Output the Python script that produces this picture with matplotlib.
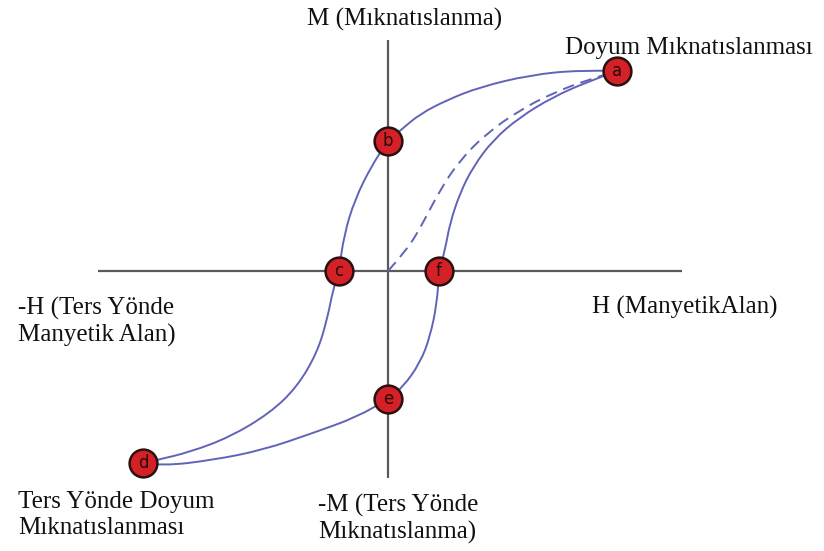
import matplotlib
matplotlib.use("Agg")
import matplotlib.pyplot as plt
from matplotlib.path import Path
from matplotlib.patches import PathPatch

# ---- data (H, M in arbitrary units) ----
# descending branch a -> b -> c -> d
desc_H = [2.29, 1.92, 1.42, 0.92, 0.59, 0.32, 0.14, 0.00, -0.16, -0.33, -0.44, -0.49,
          -0.55, -0.61, -0.71, -0.91, -1.18, -1.58, -1.98, -2.31, -2.45]
desc_M = [2.00, 2.01, 1.96, 1.84, 1.71, 1.57, 1.42, 1.30, 1.06, 0.72, 0.36, 0.00,
          -0.19, -0.49, -0.82, -1.16, -1.42, -1.66, -1.81, -1.89, -1.92]
# ascending branch d -> e -> f -> a
asc_H = [-2.45, -2.25, -1.75, -1.25, -0.75, -0.31, 0.00, 0.15, 0.32, 0.42, 0.49, 0.51,
         0.57, 0.62, 0.72, 0.85, 1.05, 1.32, 1.65, 1.99, 2.29]
asc_M = [-1.92, -1.95, -1.89, -1.79, -1.62, -1.46, -1.28, -1.16, -0.92, -0.66, -0.32, 0.00,
         0.21, 0.48, 0.78, 1.04, 1.31, 1.54, 1.74, 1.89, 2.00]
# initial magnetisation curve (dashed)
init_H = [0.00, 0.19, 0.35, 0.52, 0.72, 0.99, 1.32, 1.65, 1.99, 2.29]
init_M = [0.00, 0.21, 0.48, 0.81, 1.11, 1.38, 1.61, 1.78, 1.91, 2.00]
# labelled points
pt_labels = ["a", "b", "c", "d", "e", "f"]
pt_H = [2.29, 0.00, -0.49, -2.45, 0.00, 0.51]
pt_M = [2.00, 1.30, 0.00, -1.92, -1.28, 0.00]

axis_H = [-2.90, 2.94]
axis_M = [-2.07, 2.31]

fig = plt.figure(figsize=(8.24, 5.51), dpi=100)
ax = fig.add_axes([0, 0, 1, 1])
ax.set_xlim(-3.88, 4.36)
ax.set_ylim(-2.80, 2.71)
ax.axis("off")


def smooth_path(xs, ys):
    """Quadratic B-spline path drawn by matplotlib through the read points."""
    pts = list(zip(xs, ys))
    verts = [pts[0]]
    codes = [Path.MOVETO]
    n = len(pts)
    for i in range(1, n - 2):
        mid = ((pts[i][0] + pts[i + 1][0]) / 2, (pts[i][1] + pts[i + 1][1]) / 2)
        verts += [pts[i], mid]
        codes += [Path.CURVE3, Path.CURVE3]
    verts += [pts[n - 2], pts[n - 1]]
    codes += [Path.CURVE3, Path.CURVE3]
    return Path(verts, codes)


axis_col = "#5a5a5a"
ax.plot(axis_H, [0, 0], color=axis_col, lw=1.6, solid_capstyle="butt", zorder=1)
ax.plot([0, 0], axis_M, color=axis_col, lw=1.6, solid_capstyle="butt", zorder=1)

curve_col = "#6064b8"
for xs, ys, ls in [(desc_H, desc_M, "-"), (asc_H, asc_M, "-"),
                   (init_H, init_M, (0, (6, 3.5)))]:
    ax.add_patch(PathPatch(smooth_path(xs, ys), fill=False, edgecolor=curve_col,
                           lw=1.4, ls=ls, zorder=2))

ax.plot(pt_H, pt_M, "o", ms=20, mfc="#d42128", mec="#2a1010", mew=1.8, ls="none", zorder=3)
for lab, h, m in zip(pt_labels, pt_H, pt_M):
    ax.text(h, m, lab, ha="center", va="center", fontsize=12, color="#2a0808",
            family="DejaVu Sans", zorder=4)

tf = dict(family="Liberation Serif", fontsize=18, color="#111111")
ax.text(0.17, 2.52, "M (Mıknatıslanma)", ha="center", va="center", **tf)
ax.text(1.77, 2.23, "Doyum Mıknatıslanması", ha="left", va="center", **tf)
ax.text(-3.70, -0.51, "-H (Ters Yönde\nManyetik Alan)", ha="left", va="center",
        linespacing=1.2, **tf)
ax.text(2.04, -0.36, "H (ManyetikAlan)", ha="left", va="center", **tf)
ax.text(-3.70, -2.44, "Ters Yönde Doyum\nMıknatıslanması", ha="left", va="center",
        linespacing=1.2, **tf)
ax.text(-0.70, -2.48, "-M (Ters Yönde\nMıknatıslanma)", ha="left", va="center",
        linespacing=1.2, **tf)

fig.savefig("out.png", dpi=100)
